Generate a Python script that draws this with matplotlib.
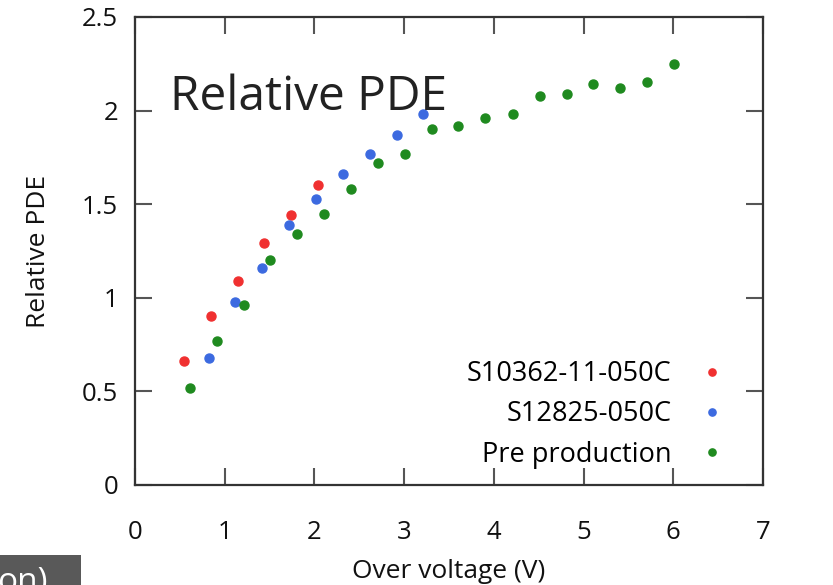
import matplotlib
matplotlib.use("Agg")
import matplotlib.pyplot as plt
from matplotlib.patches import Rectangle

# S10362-11-050C
red_x = [0.55, 0.85, 1.15, 1.44, 1.74, 2.04]
red_y = [0.66, 0.90, 1.09, 1.29, 1.44, 1.60]

# S12825-050C
blue_x = [0.82, 1.12, 1.42, 1.72, 2.02, 2.32, 2.62, 2.92, 3.21]
blue_y = [0.68, 0.98, 1.16, 1.39, 1.53, 1.66, 1.77, 1.87, 1.98]

# Pre production
green_x = [0.61, 0.91, 1.21, 1.51, 1.81, 2.11, 2.41, 2.71, 3.01, 3.31,
           3.60, 3.90, 4.21, 4.51, 4.81, 5.11, 5.41, 5.71, 6.01]
green_y = [0.52, 0.77, 0.96, 1.20, 1.34, 1.45, 1.58, 1.72, 1.77, 1.90,
           1.92, 1.96, 1.98, 2.08, 2.09, 2.14, 2.12, 2.15, 2.25]

labels = ["S10362-11-050C", "S12825-050C", "Pre production"]
xticks = [0, 1, 2, 3, 4, 5, 6, 7]
yticks = [0, 0.5, 1, 1.5, 2, 2.5]
ytick_labels = ["0", "0.5", "1", "1.5", "2", "2.5"]

plt.rcParams['font.family'] = ['Open Sans', 'DejaVu Sans']

fig = plt.figure(figsize=(8.33, 5.85), dpi=100)
ax = fig.add_axes([0.162, 0.171, 0.754, 0.800])

ax.plot(red_x, red_y, 'o', color='#f03030', ms=6.5, label=labels[0])
ax.plot(blue_x, blue_y, 'o', color='#3c6ae0', ms=6.5, label=labels[1])
ax.plot(green_x, green_y, 'o', color='#1f8a1f', ms=6.5, label=labels[2])

ax.set_xlim(0, 7)
ax.set_ylim(0, 2.5)
ax.set_xticks(xticks)
ax.set_yticks(yticks)
ax.set_yticklabels(ytick_labels)
ax.tick_params(direction='in', length=12, width=1.5, color='#555555',
               top=True, right=True, labelsize=18.5, labelcolor='#111111')
ax.tick_params(axis='x', pad=25)
ax.tick_params(axis='y', pad=12)
for s in ax.spines.values():
    s.set_linewidth(1.6)
    s.set_color('#333333')

ax.set_xlabel('Over voltage (V)', fontsize=19, color='#111111', labelpad=10)
ax.set_ylabel('Relative PDE', fontsize=19, color='#111111', labelpad=22)

ax.text(0.056, 0.801, 'Relative PDE', transform=ax.transAxes,
        fontsize=34.5, color='#222222', ha='left', va='baseline')

ax.legend(loc='lower right', bbox_to_anchor=(0.975, -0.017), frameon=False,
          markerfirst=False, fontsize=19.5, handlelength=0.8, handletextpad=1.1,
          labelspacing=0.45, markerscale=0.8)

fig.patches.append(Rectangle((0, 0), 81 / 833, 30 / 585, transform=fig.transFigure,
                             facecolor='#595959', edgecolor='none'))
fig.text(-0.003, -0.0103, 'on)', fontsize=24, color='white', ha='left', va='baseline')

fig.savefig('out.png', dpi=100)
